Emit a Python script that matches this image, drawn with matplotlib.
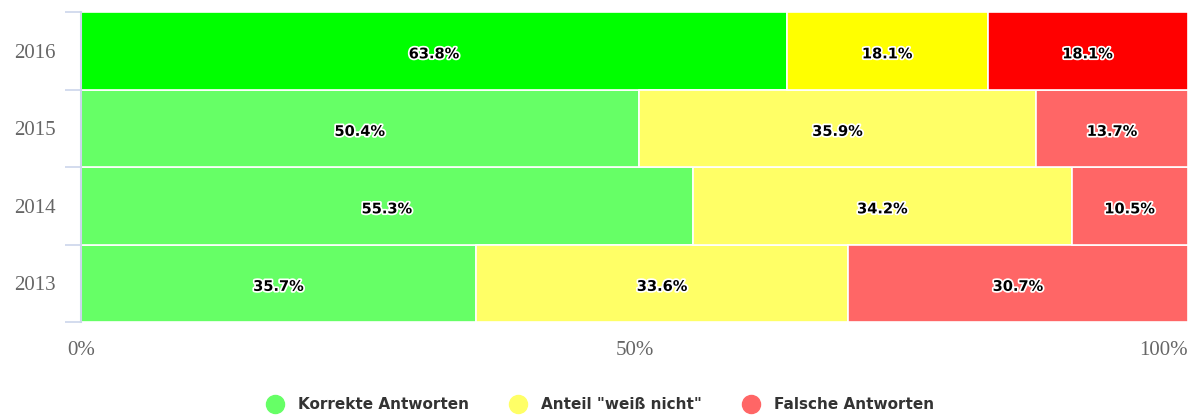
import numpy as np
import matplotlib.pyplot as plt
import matplotlib.patheffects as pe
from matplotlib.lines import Line2D

years = ["2013", "2014", "2015", "2016"]
korrekt = [35.7, 55.3, 50.4, 63.8]
weiss_nicht = [33.6, 34.2, 35.9, 18.1]
falsch = [30.7, 10.5, 13.7, 18.1]

series_names = ["Korrekte Antworten", 'Anteil "weiß nicht"', "Falsche Antworten"]
light = ["#66ff66", "#ffff66", "#ff6666"]
strong = ["#00ff00", "#ffff00", "#ff0000"]

fig = plt.figure(figsize=(12, 4.17), dpi=100)
ax = fig.add_axes([81 / 1200, 1 - 322 / 417, 1107 / 1200, 310 / 417])

y = np.arange(len(years))
left = np.zeros(len(years))
for k, vals in enumerate([korrekt, weiss_nicht, falsch]):
    vals = np.array(vals)
    cols = [strong[k] if yr == "2016" else light[k] for yr in years]
    ax.barh(y, vals, left=left, height=1.0, color=cols, edgecolor="white", linewidth=1.2)
    for yi, l, v in zip(y, left, vals):
        ax.text(l + v / 2, yi - 0.04, f"{v:.1f}%", ha="center", va="center", fontsize=10.5,
                fontweight="bold", color="black", family="DejaVu Sans",
                path_effects=[pe.withStroke(linewidth=2.5, foreground="white")])
    left = left + vals

ax.set_xlim(0, 100)
ax.set_ylim(-0.5, 3.5)
ax.set_xticks([0, 50, 100])
ax.set_xticklabels(["0%", "50%", "100%"])
ax.set_yticks(y)
ax.set_yticklabels(years)
ax.set_yticks(np.arange(-0.5, 4, 1), minor=True)
ax.tick_params(axis="y", which="major", length=0, pad=18)
ax.tick_params(axis="y", which="minor", length=11.5, width=1.2, color="#ccd6eb")
ax.tick_params(axis="x", length=0, pad=14)
for lab in ax.get_xticklabels() + ax.get_yticklabels():
    lab.set_family("Liberation Serif")
    lab.set_fontsize(15)
    lab.set_color("#666666")
ax.get_xticklabels()[-1].set_ha("right")
for s in ["top", "right", "bottom"]:
    ax.spines[s].set_visible(False)
ax.spines["left"].set_color("#ccd6eb")
ax.spines["left"].set_linewidth(1.5)

handles = [Line2D([], [], marker="o", linestyle="", markersize=13, color=c) for c in light]
leg = fig.legend(handles, series_names, loc="lower center", ncol=3, frameon=False,
                 bbox_to_anchor=(0.5, -0.022), handletextpad=0.9, columnspacing=2.6,
                 handlelength=1.2,
                 prop={"family": "DejaVu Sans Condensed", "weight": "bold", "size": 11})
for t in leg.get_texts():
    t.set_color("#333333")

fig.savefig("out.png", dpi=100)
